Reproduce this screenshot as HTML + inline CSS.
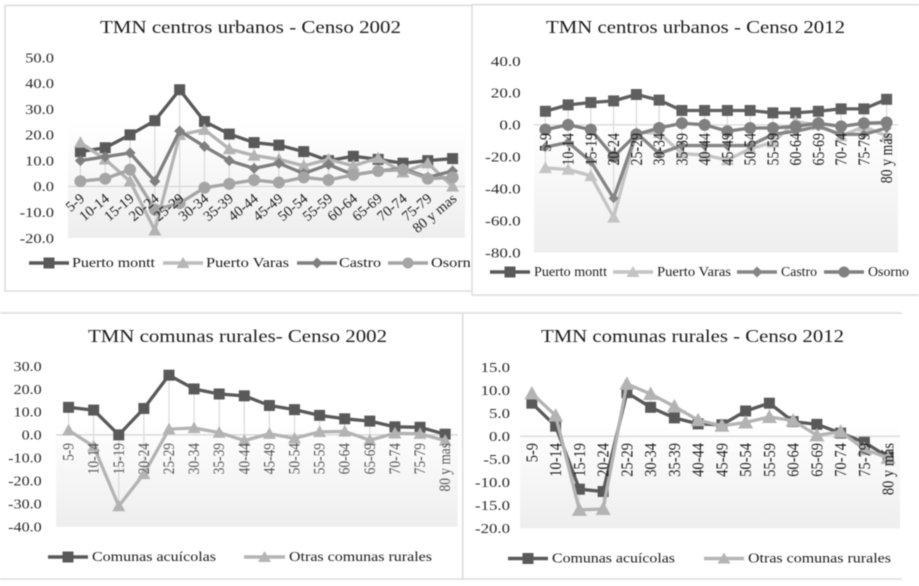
<!DOCTYPE html>
<html lang="es">
<head>
<meta charset="utf-8">
<title>TMN centros urbanos y comunas rurales</title>
<style>
html,body{margin:0;padding:0;background:#fff;width:919px;height:586px;overflow:hidden}
svg{display:block;filter:blur(0.4px);font-family:"Liberation Serif",serif}
.title{font-size:18px;fill:#1c1c1c}
.leg{font-size:14px;fill:#1c1c1c}
</style>
</head>
<body>
<svg id="figure" width="919" height="586" viewBox="0 0 919 586" xmlns="http://www.w3.org/2000/svg">
<defs>
<linearGradient id="plotFade" x1="0" y1="0" x2="0" y2="1"><stop offset="0" stop-color="#ffffff"/><stop offset="1" stop-color="#eeeeee"/></linearGradient>
</defs>

<g id="chart1">
<rect x="5" y="5.5" width="480" height="285.5" fill="#fff" stroke="#dcdcdc" stroke-width="1.5"/>
<text class="title" x="100" y="33" textLength="301" lengthAdjust="spacingAndGlyphs">TMN centros urbanos - Censo 2002</text>
<g id="plot1"></g>
<g>
<g><line x1="29" y1="263" x2="69" y2="263" stroke="#595959" stroke-width="3.5"/><rect x="43.5" y="257.5" width="11" height="11" fill="#595959"/><text class="leg" x="72" y="267" textLength="83" lengthAdjust="spacingAndGlyphs">Puerto montt</text></g>
<g><line x1="163" y1="263" x2="203" y2="263" stroke="#bdbdbd" stroke-width="3.5"/><polygon points="183,257 189.500,268 176.500,268" fill="#b5b5b5"/><text class="leg" x="206" y="267" textLength="83" lengthAdjust="spacingAndGlyphs">Puerto Varas</text></g>
<g><line x1="297" y1="263" x2="337" y2="263" stroke="#7f7f7f" stroke-width="3.5"/><polygon points="317,257.500 322.500,263 317,268.500 311.500,263" fill="#7f7f7f"/><text class="leg" x="339" y="267" textLength="42" lengthAdjust="spacingAndGlyphs">Castro</text></g>
<g><line x1="388" y1="263" x2="428" y2="263" stroke="#a5a5a5" stroke-width="3.5"/><circle cx="408" cy="263" r="5.500" fill="#a5a5a5"/><text class="leg" x="431" y="267" textLength="48" lengthAdjust="spacingAndGlyphs">Osorno</text></g>
</g>
</g>

<g id="chart2">
<rect x="472" y="4.700" width="460" height="290.300" fill="#fff" stroke="#dcdcdc" stroke-width="1.5"/>
<text class="title" x="546" y="33" textLength="299" lengthAdjust="spacingAndGlyphs">TMN centros urbanos - Censo 2012</text>
<g id="plot2"></g>
<g>
<g><line x1="490" y1="272" x2="530" y2="272" stroke="#595959" stroke-width="3.5"/><rect x="504.500" y="266.500" width="11" height="11" fill="#595959"/><text class="leg" x="534" y="276" textLength="73" lengthAdjust="spacingAndGlyphs">Puerto montt</text></g>
<g><line x1="613" y1="272" x2="653" y2="272" stroke="#c4c4c4" stroke-width="3.5"/><polygon points="633,266 639.500,277 626.500,277" fill="#c4c4c4"/><text class="leg" x="657" y="276" textLength="74" lengthAdjust="spacingAndGlyphs">Puerto Varas</text></g>
<g><line x1="737" y1="272" x2="777" y2="272" stroke="#858585" stroke-width="3.5"/><polygon points="757,266.500 762.500,272 757,277.500 751.500,272" fill="#858585"/><text class="leg" x="781" y="276" textLength="36" lengthAdjust="spacingAndGlyphs">Castro</text></g>
<g><line x1="824" y1="272" x2="864" y2="272" stroke="#808080" stroke-width="3.5"/><circle cx="844" cy="272" r="5.500" fill="#808080"/><text class="leg" x="868" y="276" textLength="41" lengthAdjust="spacingAndGlyphs">Osorno</text></g>
</g>
</g>

<g id="chart3">
<rect x="-5" y="313" width="467.700" height="266" fill="#fff" stroke="#dcdcdc" stroke-width="1.5"/>
<text class="title" x="88" y="342" textLength="299" lengthAdjust="spacingAndGlyphs">TMN comunas rurales- Censo 2002</text>
<g id="plot3"></g>
<g>
<g><line x1="48" y1="557" x2="88" y2="557" stroke="#595959" stroke-width="3.5"/><rect x="62.500" y="551.500" width="11" height="11" fill="#595959"/><text class="leg" x="92" y="561" textLength="124" lengthAdjust="spacingAndGlyphs">Comunas acuícolas</text></g>
<g><line x1="244" y1="557" x2="285" y2="557" stroke="#b5b5b5" stroke-width="3.5"/><polygon points="264.500,551 271,562 258,562" fill="#b5b5b5"/><text class="leg" x="289" y="561" textLength="143" lengthAdjust="spacingAndGlyphs">Otras comunas rurales</text></g>
</g>
</g>

<g id="chart4">
<path d="M902 313H462.700V579H902" fill="none" stroke="#dcdcdc" stroke-width="1.5"/>
<text class="title" x="541" y="342" textLength="303" lengthAdjust="spacingAndGlyphs">TMN comunas rurales - Censo 2012</text>
<g id="plot4"></g>
<g>
<g><line x1="508" y1="558.500" x2="548" y2="558.500" stroke="#595959" stroke-width="3.5"/><rect x="522.500" y="553" width="11" height="11" fill="#595959"/><text class="leg" x="552" y="562.500" textLength="123" lengthAdjust="spacingAndGlyphs">Comunas acuícolas</text></g>
<g><line x1="704" y1="558.500" x2="744" y2="558.500" stroke="#b5b5b5" stroke-width="3.5"/><polygon points="724,552.500 730.500,563.500 717.500,563.500" fill="#b5b5b5"/><text class="leg" x="748" y="562.500" textLength="143" lengthAdjust="spacingAndGlyphs">Otras comunas rurales</text></g>
</g>
</g>
</svg>

<script>
// ---- Data ----
const ageGroupsMas = ["5-9","10-14","15-19","20-24","25-29","30-34","35-39","40-44","45-49","50-54","55-59","60-64","65-69","70-74","75-79","80 y mas"];
const ageGroupsMasAccent = ["5-9","10-14","15-19","20-24","25-29","30-34","35-39","40-44","45-49","50-54","55-59","60-64","65-69","70-74","75-79","80 y más"];

const ticks2002Urban = [50,40,30,20,10,0,-10,-20];
const puertoMontt2002 = [13.5,15,20,25.5,37.5,25.2,20.3,17,16,13.5,10,11.7,10.5,9,10,10.8];
const puertoVaras2002 = [17,10.5,2,-17,20,22,14.5,12,10.5,8,10.5,8,11,5.5,9,0];
const castro2002 = [10,11.5,13,2,21.5,15.5,10,7,9,5,8.5,4.5,6,7,3.5,6];
const osorno2002 = [2,3,6.5,-9,-6.5,-0.5,1,2.5,1.5,3.5,2.5,4.5,6,6.5,3,3.5];

const ticks2012Urban = [40,20,0,-20,-40,-60,-80];
const puertoMontt2012 = [8.5,12.5,14,15,19,15.5,9,9,9,9,7.5,7.5,8.5,10,10,16];
const puertoVaras2012 = [-27,-28,-32,-58,-5,-5,-18,-19,-22,-15,-11,2,0,-7,-1,-7];
const castro2012 = [-14,-11,-23,-46,-5,-18,-13,-13,-13,-13,-6,-4,-1,-6,-6,-2];
const osorno2012 = [-3,0,-3,-20,-6,-2,1,0,-4,-2,-2,-1,1,-1,1,1.5];

const ticks2002Rural = [30,20,10,0,-10,-20,-30,-40];
const acuicolas2002 = [12,10.8,0,11.5,26,20,17.8,17,12.8,11,8.5,7,6,3.5,3.3,0.3];
const otras2002 = [2,-5,-31,-17,2.5,3,1,-2.5,0.5,-1.5,1.3,1.5,-2.3,0.7,0.5,-2.5];

const ticks2012Rural = [15,10,5,0,-5,-10,-15,-20];
const acuicolas2012 = [7.2,2.2,-11.5,-12,9.5,6.3,4,2.7,2.5,5.5,7.2,3.2,2.6,0.7,-1.3,-4.5];
const otras2012 = [9.3,4.5,-16,-15.8,11.4,9.2,6.5,3.5,2.3,3,4.2,3.4,0.2,1,-2.8,-4.7];

// ---- Drawing ----
const NS = 'http://www.w3.org/2000/svg';
function svgEl(tag, attrs, parent) {
  const el = document.createElementNS(NS, tag);
  for (const k in attrs) el.setAttribute(k, attrs[k]);
  parent.appendChild(el);
  return el;
}

function markerEl(shape, x, y, size, color, parent) {
  const h = size / 2;
  if (shape === 'square') return svgEl('rect', {x: x - h, y: y - h, width: size, height: size, fill: color}, parent);
  if (shape === 'circle') return svgEl('circle', {cx: x, cy: y, r: h, fill: color}, parent);
  if (shape === 'diamond') return svgEl('polygon', {points: `${x},${y - h} ${x + h},${y} ${x},${y + h} ${x - h},${y}`, fill: color}, parent);
  return svgEl('polygon', {points: `${x},${y - h} ${x + h},${y + h * 0.8} ${x - h},${y + h * 0.8}`, fill: color}, parent);
}

function drawChart(cfg) {
  const root = document.getElementById(cfg.target);
  const n = cfg.categories.length;
  const step = (cfg.right - cfg.left) / n;
  const xScale = i => cfg.left + step * (i + 0.5);
  const yMax = Math.max(...cfg.ticks);
  const yMin = Math.min(...cfg.ticks);
  const yScale = v => cfg.top + (yMax - v) / (yMax - yMin) * (cfg.bottom - cfg.top);
  const zeroY = yScale(0);

  const bg = svgEl('rect', {x: cfg.left, y: cfg.fadeTop, width: cfg.right - cfg.left, height: cfg.bottom - cfg.fadeTop, fill: 'url(#plotFade)'}, root);
  
  

  const axis = svgEl('line', {x1: cfg.left, x2: cfg.right, y1: zeroY, y2: zeroY, stroke: '#d4d4d4', 'stroke-width': 1.2}, root);
  
  

  cfg.ticks.forEach(t => {
    const tick = svgEl('text', {
      transform: `translate(${cfg.tickRight},${yScale(t) + 4.8}) scale(${cfg.tickStretch},1)`,
      'text-anchor': 'end', 'font-size': 14, fill: cfg.tickColor
    }, root);
    tick.textContent = t.toFixed(1);
    
    
  });

  cfg.categories.forEach((c, i) => {
    const vals = cfg.series.map(s => s.values[i]);
    const drop = svgEl('line', {x1: xScale(i), x2: xScale(i), y1: yScale(Math.max(...vals)), y2: yScale(Math.min(...vals)), stroke: '#dadada', 'stroke-width': 1.2}, root);
    
    
  });

  cfg.series.forEach(s => {
    const path = svgEl('polyline', {
      points: s.values.map((v, i) => `${xScale(i)},${yScale(v)}`).join(' '),
      fill: 'none', stroke: s.color, 'stroke-width': 3.3, 'stroke-linejoin': 'round'
    }, root);
    
    
    s.values.forEach((v, i) => {
      const mark = markerEl(s.shape, xScale(i), yScale(v), s.size, s.color, root);
      
      
    });
  });

  cfg.categories.forEach((c, i) => {
    const lx = xScale(i) + cfg.labelDx;
    const label = svgEl('text', {
      transform: `translate(${lx},${cfg.labelY}) rotate(${cfg.labelAngle}) scale(${cfg.labelStretch},1)`,
      'text-anchor': 'end', 'font-size': cfg.labelSize, fill: cfg.labelColor
    }, root);
    label.textContent = c;
    
    
  });
}

drawChart({
  target: 'plot1', categories: ageGroupsMas, ticks: ticks2002Urban,
  left: 68, right: 465, top: 57.5, bottom: 238, fadeTop: 122.5,
  tickRight: 54, tickStretch: 1.18, tickColor: '#2a2a2a',
  labelDx: 5, labelY: 200, labelAngle: -40, labelStretch: 1, labelSize: 14.5, labelColor: '#1c1c1c',
  series: [
    {key: 'puerto-montt', values: puertoMontt2002, color: '#595959', shape: 'square', size: 11},
    {key: 'puerto-varas', values: puertoVaras2002, color: '#b3b3b3', shape: 'triangle', size: 13},
    {key: 'castro', values: castro2002, color: '#7f7f7f', shape: 'diamond', size: 11},
    {key: 'osorno', values: osorno2002, color: '#a5a5a5', shape: 'circle', size: 12}
  ]
});

drawChart({
  target: 'plot2', categories: ageGroupsMasAccent, ticks: ticks2012Urban,
  left: 534, right: 898, top: 61, bottom: 252.5, fadeTop: 124.5,
  tickRight: 520.7, tickStretch: 1.22, tickColor: '#2a2a2a',
  labelDx: 5.5, labelY: 133, labelAngle: -90, labelStretch: 0.82, labelSize: 17, labelColor: '#1c1c1c',
  series: [
    {key: 'puerto-montt', values: puertoMontt2012, color: '#5f5f5f', shape: 'square', size: 11},
    {key: 'puerto-varas', values: puertoVaras2012, color: '#c4c4c4', shape: 'triangle', size: 13},
    {key: 'castro', values: castro2012, color: '#858585', shape: 'diamond', size: 10},
    {key: 'osorno', values: osorno2012, color: '#808080', shape: 'circle', size: 12}
  ]
});

drawChart({
  target: 'plot3', categories: ageGroupsMas, ticks: ticks2002Rural,
  left: 56, right: 457.7, top: 366, bottom: 526.7, fadeTop: 422,
  tickRight: 41.7, tickStretch: 1.15, tickColor: '#2a2a2a',
  labelDx: 5, labelY: 443, labelAngle: -90, labelStretch: 0.84, labelSize: 16, labelColor: '#555',
  series: [
    {key: 'comunas-acuicolas', values: acuicolas2002, color: '#595959', shape: 'square', size: 11},
    {key: 'otras-comunas-rurales', values: otras2002, color: '#b3b3b3', shape: 'triangle', size: 13}
  ]
});

drawChart({
  target: 'plot4', categories: ageGroupsMasAccent, ticks: ticks2012Rural,
  left: 520, right: 900, top: 367.3, bottom: 528.3, fadeTop: 426,
  tickRight: 510, tickStretch: 1.2, tickColor: '#2a2a2a',
  labelDx: 5.5, labelY: 443, labelAngle: -90, labelStretch: 0.85, labelSize: 17, labelColor: '#1c1c1c',
  series: [
    {key: 'comunas-acuicolas', values: acuicolas2012, color: '#595959', shape: 'square', size: 11},
    {key: 'otras-comunas-rurales', values: otras2012, color: '#b3b3b3', shape: 'triangle', size: 15}
  ]
});
</script>
</body>
</html>
